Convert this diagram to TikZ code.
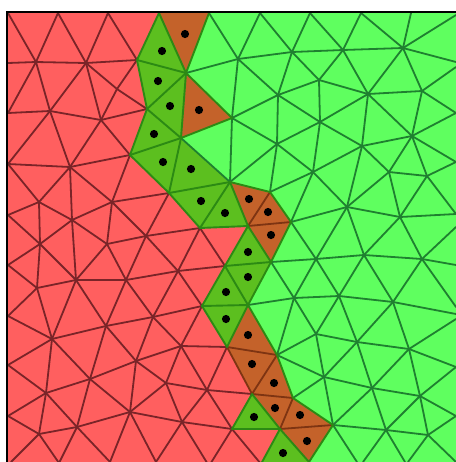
\documentclass[tikz,border=0pt]{standalone}
\definecolor{redfill}{HTML}{FF5F5F}
\definecolor{greenfill}{HTML}{5FFF5F}
\definecolor{darkfill}{HTML}{5CBF1F}
\definecolor{brownfill}{HTML}{C4622A}
\definecolor{rededge}{HTML}{7A2428}
\definecolor{greenedge}{HTML}{1F8030}
\definecolor{borderedge}{HTML}{2C8A14}
\definecolor{brownedge}{HTML}{7E3412}
\tikzset{
  edgeR/.style={draw=rededge,line width=0.9pt,line cap=round},
  edgeG/.style={draw=greenedge,line width=0.9pt,line cap=round},
  edgeB/.style={draw=borderedge,line width=0.95pt,line cap=round},
  edgeO/.style={draw=brownedge,line width=0.9pt,line cap=round},
  blackdot/.style={fill=black}
}
\begin{document}
\begin{tikzpicture}[x=0.5pt,y=-0.5pt]
\useasboundingbox (0,0) rectangle (456,462);
\clip (0,0) rectangle (456,462);
\fill[white] (0,0) rectangle (456,462);
% vertices: left (red) side
\foreach \n/\x/\y in {tl/8/13,ta/58/13,tb/108/13,lb/8/63,lc/8/113,ld/8/164,a/36/62,b/86/63,c/137/60,d/117/89,e/147/109,f/50/111,g/101/120,h/130/155,
 na/70/167,i/39/202,j/72/220,k/112/202,l/40/244,m/107/244,n/146/236,o/8/215,p/8/265,q/37/288,r/76/280,s/126/280,
 t/52/339,u/106/326,v/153/317,w/136/361,x/90/379,y/46/393,z/8/365,aa/8/316,bb/130/412,cc/77/427,dd/39/434,ee/8/416,
 ba/11/462,bc/59/463,bd/110/462,be/156/462,bf/209/466,bg/261/464,bh/309/462,bi/357/462,bj/363/462,bk/405/462,bl/408/462,bm/456/462,
 A/181/346,B/166/383,C/207/390,D/182/422,E/232/429,F/227/347,G/252/394,H/277/355,I/293/398,J/280/429,N/333/425,
 ap/178/271,aq/169/193,ar/200/228,as/230/182,at/248/226,au/270/192,av/291/222,aw/271/262,ax/225/266,ay/202/306,az/248/305,bz/294/298,
 bo/159/13,bp/209/13,bq/186/73,br/232/118,bs/181/138,bt/238/59,bu/260/13,bv/292/52,bw/278/95,bx/277/144,
 ca/310/13,cb/361/13,cd/411/13,ce/456/15,cf/343/50,cg/403/48,ch/456/62,ci/319/80,cj/368/94,ck/422/91,cl/456/67,cm/320/122,cn/412/136,co/456/113,cp/362/146,cq/456/162,
 da/313/172,db/389/172,dc/427/176,dd2/347/207,de/400/217,df/316/259,dg/364/255,dh/422/259,di/339/296,dj/393/302,
 ra/456/214,rb/456/227,rc/456/265,rd/456/307,re/456/314,rf/456/319,rg/456/367,rh/456/416,
 ea/316/334,eb/357/342,ec/409/349,ed/324/377,ef/372/388,eg/420/396,eh/386/430,ei/428/435}
  {\coordinate (\n) at (\x,\y);}
% regions
\fill[greenfill] (7,12) rectangle (456,462);
\fill[redfill] (7,12) -- (bo) -- (c) -- (e) -- (h) -- (aq) -- (ar) -- (at) -- (ax) -- (ay) -- (F) -- (G) -- (E) -- (J) -- (bg) -- (7,466) -- cycle;
\foreach \p/\q/\r in {bo/c/bq,c/e/bq,e/bq/bs,e/h/bs,h/bs/aq,bs/aq/as,aq/ar/as,ar/as/at,at/aw/ax,ax/aw/az,ax/ay/az,ay/F/az,E/G/J,J/bg/bh}
  {\fill[darkfill] (\p) -- (\q) -- (\r) -- cycle;}
\foreach \p/\q/\r in {bo/bp/bq,bq/br/bs,as/at/au,at/au/av,at/av/aw,az/F/H,F/G/H,G/H/I,G/I/J,I/J/N,J/N/bh}
  {\fill[brownfill] (\p) -- (\q) -- (\r) -- cycle;}
% edges in the red part
\foreach \p/\q in {tl/a,ta/a,ta/b,tb/b,tb/c,a/lb,a/b,b/c,a/lc,a/f,b/f,b/g,b/d,d/e,c/d,d/g,g/e,f/g,f/lc,f/ld,f/na,g/na,na/h,ld/na,ld/i,na/i,na/j,na/k,h/k,g/h,
 i/o,i/j,i/l,j/k,j/l,j/m,j/r,k/m,k/n,k/aq,m/n,n/aq,n/ar,m/r,m/s,r/s,n/s,s/ap,n/ap,ar/ap,ar/ax,ap/ax,ap/ay,ap/v,s/v,l/o,l/p,l/q,l/r,p/q,q/r,aa/q,q/t,r/t,r/u,s/u,
 t/u,t/aa,t/z,t/y,t/x,u/x,u/w,u/v,v/ay,v/A,v/w,w/A,w/B,w/x,w/bb,x/y,x/cc,x/bb,y/z,y/ee,y/dd,y/cc,ee/dd,dd/cc,dd/ba,dd/bc,cc/bc,cc/bd,bb/cc,bb/bd,bb/be,bb/B,bb/D,
 B/A,B/D,B/C,A/C,A/F,A/ay,C/D,C/E,C/F,C/G,D/E,D/be,D/bf,E/bf,E/bg}
  {\draw[edgeR] (\p) -- (\q);}
% edges in the green part
\foreach \p/\q in {bp/bt,bq/bt,bt/bu,bt/bv,bt/bw,bt/br,bu/bv,bv/ca,bv/cf,bv/bw,bv/ci,bw/br,bw/bx,bw/ci,bw/cm,br/bx,bx/cm,bx/da,bx/au,bx/as,br/as,bs/as,
 ca/cf,cb/cf,cb/cg,cd/cg,ce/cg,cf/cg,cf/ci,cf/cj,cg/cj,cg/ck,cg/ch,cj/ck,ck/cl,ck/co,ck/cn,cj/cn,cj/cp,cj/cm,ci/cj,ci/cm,cm/cp,cn/cp,cn/co,cn/cq,cn/db,cn/dc,
 cm/da,cp/da,cp/db,cp/dd2,da/dd2,dd2/db,db/dc,db/de,dc/de,dc/cq,dc/ra,de/ra,dh/rb,de/dd2,dd2/df,dd2/dg,de/dg,de/dh,df/dg,dg/dh,df/di,dg/di,dg/dj,dh/dj,di/dj,dh/rc,dh/rd,dj/re,ec/rf,
 au/da,av/da,av/dd2,av/df,aw/df,bz/df,bz/di,bz/ea,bz/H,bz/aw,bz/az,di/ea,di/eb,dj/eb,dj/ec,ea/eb,eb/ec,ea/ed,H/ea,H/ed,I/ed,ed/N,ed/eb,eb/ef,ec/ef,ec/eg,ef/eg,ed/ef,N/ef,ef/eh,eg/eh,N/eh,eh/ei,eg/ei,ec/rg,eg/rg,eg/rh,ei/rh,N/bi,eh/bj,eh/bk,ei/bl,ei/bm}
  {\draw[edgeG] (\p) -- (\q);}
% edges inside the brown triangles
\foreach \p/\q in {at/au,at/av,F/H,G/H,G/I,I/J,J/N,F/G}
  {\draw[edgeO] (\p) -- (\q);}
% borders
\foreach \p/\q in {bo/c,c/e,e/h,h/aq,aq/ar,ar/at,at/ax,ax/ay,ay/F,E/G,E/J,J/bg,c/bq,e/bq,e/bs,h/bs,bs/aq,aq/as,ar/as,ax/aw,ax/az,ay/az,
 bo/bq,bp/bq,bq/br,br/bs,bq/bs,as/at,as/au,au/av,av/aw,at/aw,aw/az,az/F,az/H,H/I,I/N,N/bh,G/J,J/bh}
  {\draw[edgeB] (\p) -- (\q);}
% dots
\foreach \x/\y in {185/34,162/51,158/81,170/106,199/110,154/134,163/162,191/169,201/201,225/213,249/199,268/212,271/235,248/252,248/277,226/292,226/319,248/335,252/364,274/383,275/408,254/417,300/415,307/441,283/453}
  {\fill[blackdot] (\x,\y) circle (4.1);}
% frame
\fill[black] (6,11) rectangle (456,13.2);
\fill[black] (6,11) rectangle (8,462);
\end{tikzpicture}
\end{document}
